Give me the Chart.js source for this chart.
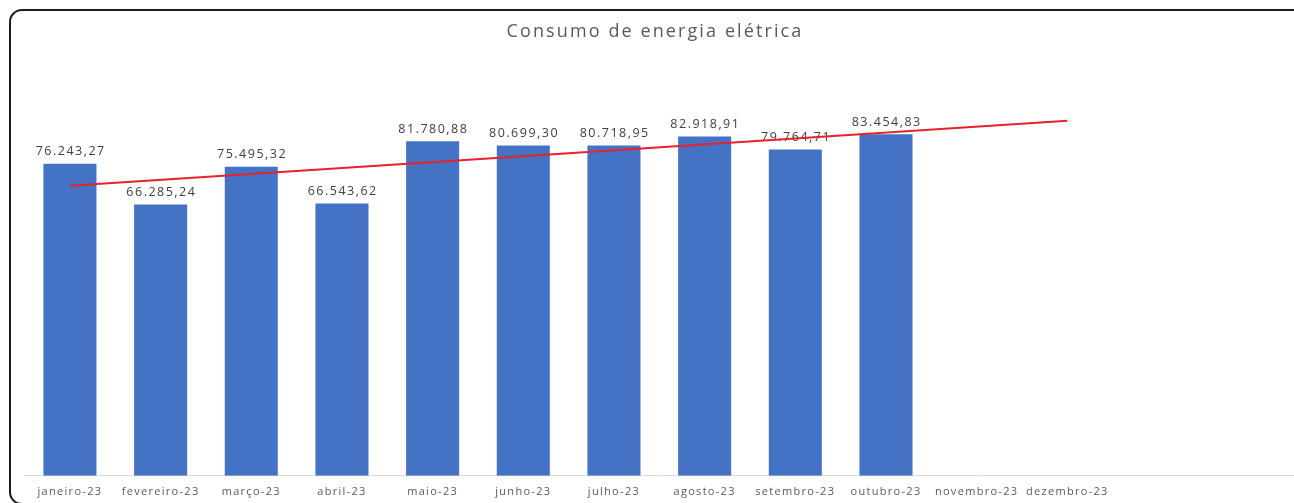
<!DOCTYPE html>
<html>
<head>
<meta charset="utf-8">
<script src="https://cdn.jsdelivr.net/npm/chart.js@4.4.1/dist/chart.umd.min.js"></script>
<style>
  html, body { margin: 0; padding: 0; background: #ffffff; overflow: hidden; }
  #wrap { width: 1294px; height: 503px; position: relative; }
</style>
</head>
<body>
<div id="wrap"><canvas id="c" width="1294" height="503"></canvas></div>
<script>
// ---- data ----
const categories = ['janeiro-23','fevereiro-23','março-23','abril-23','maio-23','junho-23','julho-23','agosto-23','setembro-23','outubro-23','novembro-23','dezembro-23'];
const consumo = [76243.27, 66285.24, 75495.32, 66543.62, 81780.88, 80699.30, 80718.95, 82918.91, 79764.71, 83454.83, null, null];
const dataLabels = ['76.243,27','66.285,24','75.495,32','66.543,62','81.780,88','80.699,30','80.718,95','82.918,91','79.764,71','83.454,83', '', ''];
// linear trend line, endpoints (janeiro .. dezembro)
const trendline = [70900, null, null, null, null, null, null, null, null, null, null, 86760];
// two empty slots that the axis of the original continues over
const emptySlots = ['', ''];

const FONT = "'Open Sans', 'Noto Sans', sans-serif";

const framePlugin = {
  id: 'frame',
  beforeDraw(chart) {
    const ctx = chart.ctx;
    ctx.save();
    ctx.fillStyle = '#ffffff';
    ctx.fillRect(0, 0, chart.width, chart.height);
    ctx.strokeStyle = '#1c1c1c';
    ctx.lineWidth = 2;
    ctx.beginPath();
    ctx.roundRect(10, 10, 1300, 494, 12);
    ctx.stroke();
    ctx.restore();
    // the original text is set wider than the installed fonts
    ctx.letterSpacing = '1.3px';
    if (chart.titleBlock && !chart.titleBlock._wide) {
      const tb = chart.titleBlock;
      const orig = tb.draw;
      tb.draw = function (...a) {
        const c = chart.ctx;
        c.save();
        c.letterSpacing = '2.1px';
        orig.apply(this, a);
        c.restore();
      };
      tb._wide = true;
    }
  }
};

const labelPlugin = {
  id: 'barLabels',
  afterDatasetDraw(chart, args) {
    if (args.index !== 0) return;
    const ctx = chart.ctx;
    const meta = args.meta;
    ctx.save();
    ctx.font = "12.5px " + FONT;
    ctx.letterSpacing = '1.5px';
    ctx.fillStyle = '#404040';
    ctx.textAlign = 'center';
    ctx.textBaseline = 'middle';
    meta.data.forEach((bar, i) => {
      const txt = dataLabels[i];
      if (!txt || consumo[i] == null) return;
      ctx.fillText(txt, bar.x + 0.75, bar.y - 12);
    });
    ctx.restore();
  }
};

new Chart(document.getElementById('c'), {
  type: 'bar',
  data: {
    labels: categories.concat(emptySlots),
    datasets: [
      {
        type: 'bar',
        label: 'Consumo',
        data: consumo,
        backgroundColor: '#4472C4',
        borderWidth: 0,
        categoryPercentage: 1,
        barPercentage: 0.585,
        order: 2
      },
      {
        type: 'line',
        label: 'Tendência',
        data: trendline,
        borderColor: '#E8212A',
        borderWidth: 2,
        pointRadius: 0,
        spanGaps: true,
        fill: false,
        tension: 0,
        order: 1
      }
    ]
  },
  options: {
    responsive: false,
    animation: false,
    devicePixelRatio: 1,
    layout: { padding: { left: 16, right: 0, top: 10, bottom: -4 } },
    plugins: {
      legend: { display: false },
      tooltip: { enabled: false },
      title: {
        display: true,
        text: 'Consumo de energia elétrica',
        color: '#595959',
        font: { family: FONT, size: 18, weight: 'normal' },
        padding: { top: 11, bottom: 24 }
      }
    },
    scales: {
      x: {
        grid: { display: false, drawTicks: false },
        border: { display: true, color: '#d9d9d9', width: 1 },
        ticks: {
          color: '#595959',
          font: { family: FONT, size: 11 },
          padding: 9,
          maxRotation: 0,
          autoSkip: false
        }
      },
      y: {
        display: true,
        min: 0,
        max: 100000,
        grid: { display: false, drawTicks: false },
        border: { display: false },
        ticks: { display: false },
        afterFit(s) { s.width = 8.6; }
      }
    }
  },
  plugins: [framePlugin, labelPlugin]
});
</script>
</body>
</html>
